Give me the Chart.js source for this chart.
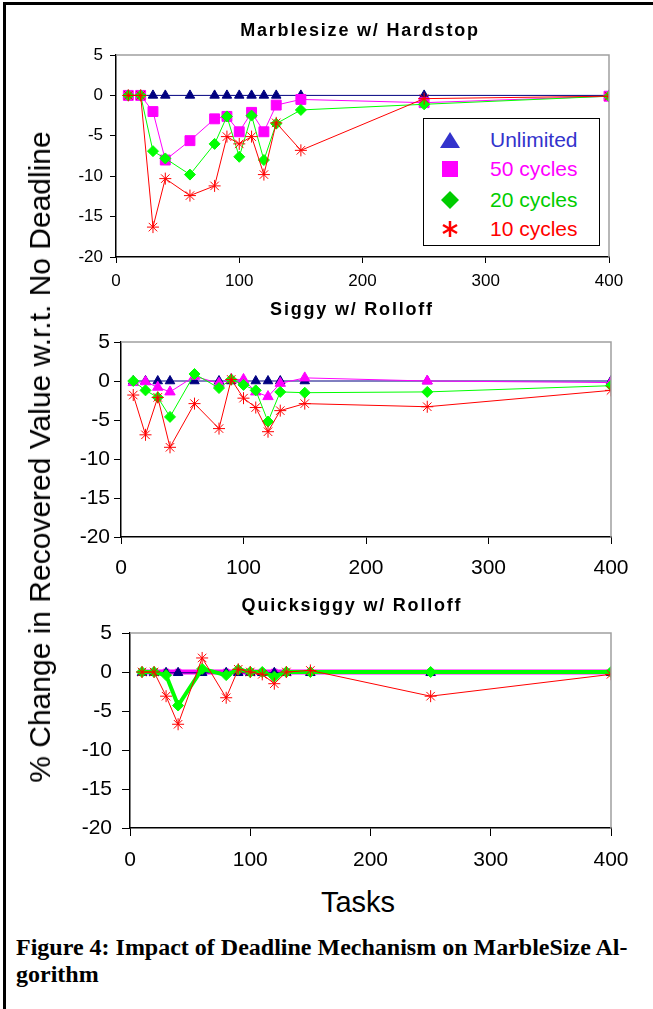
<!DOCTYPE html>
<html>
<head>
<meta charset="utf-8">
<script src="https://cdn.jsdelivr.net/npm/chart.js@4.4.1/dist/chart.umd.min.js"></script>
<style>
  body { margin: 0; background: #fff; width: 653px; height: 1009px; position: relative; overflow: hidden; font-family: Arial, "Liberation Sans", sans-serif; }
  .frame { position: absolute; left: 3px; top: 2px; width: 700px; height: 1100px; border-left: 3px solid #000; border-top: 3px solid #000; }
  canvas { position: absolute; left: 0; }
  .ttl { position: absolute; font-weight: bold; font-size: 18px; letter-spacing: 1.8px; white-space: nowrap; transform: translate(-50%, -50%); }
  .ylab { position: absolute; left: 40px; top: 457px; font-size: 30px; white-space: nowrap; transform: translate(-50%, -50%) rotate(-90deg); }
  .xlab { position: absolute; left: 358px; top: 902px; font-size: 29px; transform: translate(-50%, -50%); }
  .cap { position: absolute; left: 16px; top: 934px; font-family: "Liberation Serif", "Times New Roman", serif; font-weight: bold; font-size: 24px; line-height: 27px; }
  .legend { position: absolute; left: 423px; top: 118px; width: 175px; height: 126px; border: 1.5px solid #000; background: #fff; }
  .legend div { position: absolute; left: 0; height: 30px; line-height: 30px; font-size: 21px; }
  .legend svg { position: absolute; left: 14px; top: 5px; }
  .legend span { position: absolute; left: 66px; white-space: nowrap; }
</style>
</head>
<body>
<div class="frame"></div>

<canvas id="c1" width="653" height="300" style="top:0px"></canvas>
<canvas id="c2" width="653" height="300" style="top:300px"></canvas>
<canvas id="c3" width="653" height="280" style="top:600px"></canvas>

<div class="ttl" style="left:360px; top:30px">Marblesize w/ Hardstop</div>
<div class="ttl" style="left:352px; top:309px">Siggy w/ Rolloff</div>
<div class="ttl" style="left:352px; top:605px">Quicksiggy w/ Rolloff</div>

<div class="legend">
  <div style="top:6px; width:175px">
    <svg width="24" height="20"><polygon points="12,2 22,18 2,18" fill="#3333cc"/></svg>
    <span style="color:#3333cc">Unlimited</span>
  </div>
  <div style="top:35px; width:175px">
    <svg width="24" height="20"><rect x="4" y="2" width="16" height="16" fill="#ff00ff"/></svg>
    <span style="color:#ff00ff">50 cycles</span>
  </div>
  <div style="top:66px; width:175px">
    <svg width="24" height="20"><polygon points="12,1 21,10 12,19 3,10" fill="#00cc00"/></svg>
    <span style="color:#00cc00">20 cycles</span>
  </div>
  <div style="top:95px; width:175px">
    <svg width="24" height="20"><g stroke="#ff0000" stroke-width="2.5"><line x1="12" y1="2" x2="12" y2="18"/><line x1="5" y1="6" x2="19" y2="14"/><line x1="5" y1="14" x2="19" y2="6"/></g></svg>
    <span style="color:#ff0000">10 cycles</span>
  </div>
</div>

<div class="ylab">% Change in Recovered Value w.r.t. No Deadline</div>
<div class="xlab">Tasks</div>
<div class="cap">Figure 4: Impact of Deadline Mechanism on MarbleSize Al-<br>gorithm</div>

<script>
// jumlah task (sumbu X) - sama untuk ketiga grafik
const tasks = [10, 20, 30, 40, 60, 80, 90, 100, 110, 120, 130, 150, 250, 400];
const xTicks = [0, 100, 200, 300, 400];
const yTicks = [5, 0, -5, -10, -15, -20];

// Marblesize w/ Hardstop
const hsUnlimited = [0, 0, 0, 0, 0, 0, 0, 0, 0, 0, 0, 0, 0, 0];
const hs50 = [0, 0, -2.0, -8.0, -5.6, -2.9, -2.6, -4.5, -2.1, -4.5, -1.2, -0.5, -0.9, -0.1];
const hs20 = [0, 0, -6.9, -7.8, -9.8, -6.0, -2.6, -7.6, -2.5, -8.0, -3.5, -1.8, -1.1, -0.1];
const hs10 = [0, 0, -16.3, -10.3, -12.4, -11.2, -5.1, -6.0, -5.1, -9.8, -3.4, -6.8, -0.4, -0.1];

// Siggy w/ Rolloff
const sgUnlimited = [0, 0, 0, 0, 0, 0, 0, 0, 0, 0, 0, 0, 0, 0];
const sg50 = [-0.2, -0.1, -0.8, -1.4, 0.6, -0.3, 0.2, 0.2, -1.4, -2.0, -0.3, 0.4, 0, -0.2];
const sg20 = [0, -1.2, -2.1, -4.6, 0.9, -0.9, 0.2, -0.5, -1.2, -5.2, -1.4, -1.5, -1.4, -0.6];
const sg10 = [-1.8, -6.9, -2.1, -8.5, -2.9, -6.1, 0.2, -2.2, -3.4, -6.5, -3.8, -2.9, -3.3, -1.2];

// Quicksiggy w/ Rolloff
const qsUnlimited = [-0.1, -0.1, -0.1, -0.1, -0.1, -0.1, -0.1, -0.1, -0.1, -0.1, -0.1, -0.1, -0.1, -0.1];
const qs50 = [0, 0, 0, 0, 0, 0, 0, 0, 0, 0, 0, 0, 0, 0];
const qs20 = [0, 0, -0.4, -4.3, 0.4, -0.4, 0.3, 0, 0, -0.6, 0, 0, 0, 0];
const qs10 = [0, 0, -3.1, -6.7, 1.8, -3.3, 0.35, 0, -0.3, -1.5, 0, 0.2, -3.1, -0.3];

function toPoints(vals) {
  return tasks.map((t, i) => ({ x: t, y: vals[i] }));
}

// garis abu-abu di atas dan kanan area plot (gaya Excel)
const plotBorder = {
  id: 'plotBorder',
  afterDraw(chart) {
    const a = chart.chartArea, ctx = chart.ctx;
    ctx.save();
    ctx.strokeStyle = '#a0a0a0';
    ctx.lineWidth = 1.5;
    ctx.beginPath();
    ctx.moveTo(a.left, a.top);
    ctx.lineTo(a.right, a.top);
    ctx.lineTo(a.right, a.bottom);
    ctx.stroke();
    ctx.restore();
  }
};

// cfg: posisi area plot di dalam canvas + ukuran font
function makeChart(id, series, cfg) {
  const sets = [
    { label: 'Unlimited', data: toPoints(series[0]), borderColor: '#000080', backgroundColor: '#000080',
      pointStyle: 'triangle', pointRadius: 5.5, borderWidth: 1, order: cfg.orderU },
    { label: '50 cycles', data: toPoints(series[1]), borderColor: '#ff00ff', backgroundColor: '#ff00ff',
      pointStyle: cfg.style50, pointRadius: cfg.r50, borderWidth: cfg.w50, order: 3 },
    { label: '20 cycles', data: toPoints(series[2]), borderColor: '#00ff00', backgroundColor: '#00ff00',
      pointStyle: 'rectRot', pointRadius: 5.5, borderWidth: cfg.w20, order: 2 },
    { label: '10 cycles', data: toPoints(series[3]), borderColor: '#ff0000', backgroundColor: '#ff0000',
      pointStyle: 'star', pointRadius: 6, borderWidth: 1, order: 1 }
  ];
  sets.forEach(s => { s.pointBorderWidth = 1; s.pointBorderColor = s.borderColor; s.tension = 0; });

  return new Chart(document.getElementById(id), {
    type: 'line',
    data: { datasets: sets },
    options: {
      responsive: false,
      animation: false,
      layout: { padding: { left: 0, right: 653 - cfg.right, top: cfg.top, bottom: 0 } },
      plugins: { legend: { display: false }, tooltip: { enabled: false } },
      scales: {
        x: {
          type: 'linear', min: 0, max: 400,
          afterBuildTicks: s => { s.ticks = xTicks.map(v => ({ value: v })); },
          afterFit: s => { s.height = cfg.h - cfg.bottom; },
          grid: { drawOnChartArea: false, color: '#000', tickLength: cfg.tick },
          border: { color: '#000', width: 1.5 },
          ticks: { color: '#000', font: { family: 'Arial', size: cfg.fx }, padding: cfg.padX, maxRotation: 0 }
        },
        y: {
          min: -20, max: 5,
          afterBuildTicks: s => { s.ticks = yTicks.map(v => ({ value: v })); },
          afterFit: s => { s.width = cfg.left; },
          grid: { drawOnChartArea: false, color: '#000', tickLength: cfg.tick },
          border: { color: '#000', width: 1.5 },
          ticks: { color: '#000', font: { family: 'Arial', size: cfg.fy }, padding: cfg.padY }
        }
      }
    },
    plugins: [plotBorder]
  });
}

window.onload = () => {
  makeChart('c1', [hsUnlimited, hs50, hs20, hs10],
    { left: 116, right: 609, top: 55, bottom: 257, h: 300, fx: 17, fy: 17, tick: 6, padX: 8, padY: 7,
      style50: 'rect', r50: 7, w50: 1, w20: 1, orderU: 4 });
  makeChart('c2', [sgUnlimited, sg50, sg20, sg10],
    { left: 121, right: 611, top: 42, bottom: 237, h: 300, fx: 21, fy: 21, tick: 7, padX: 12, padY: 4,
      style50: 'triangle', r50: 6, w50: 1, w20: 1, orderU: 4 });
  makeChart('c3', [qsUnlimited, qs50, qs20, qs10],
    { left: 130, right: 611, top: 33, bottom: 228, h: 280, fx: 21, fy: 21, tick: 8, padX: 12, padY: 10,
      style50: 'rect', r50: 4, w50: 5, w20: 4, orderU: 2.5 });
};
</script>
</body>
</html>
